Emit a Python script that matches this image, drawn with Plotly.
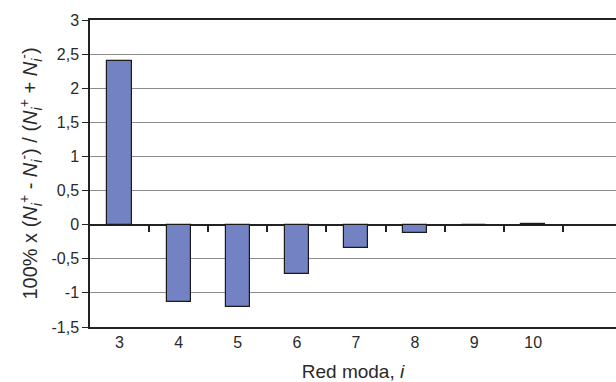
import plotly.graph_objects as go

modes = [3, 4, 5, 6, 7, 8, 9, 10]
values = [2.40, -1.13, -1.21, -0.73, -0.345, -0.115, -0.01, 0.01]
ytick_vals = [-1.5, -1, -0.5, 0, 0.5, 1, 1.5, 2, 2.5, 3]
ytick_text = ["-1,5", "-1", "-0,5", "0", "0,5", "1", "1,5", "2", "2,5", "3"]
boundaries = [3.5, 4.5, 5.5, 6.5, 7.5, 8.5, 9.5, 10.5]

font = dict(family="Arial, Liberation Sans, sans-serif", size=16, color="#2a2a2a")

fig = go.Figure()
fig.add_trace(go.Bar(
    x=modes, y=values, width=0.41,
    marker=dict(color="#7382C2", line=dict(color="#1a1a1a", width=1.2)),
    showlegend=False, hoverinfo="skip",
))
fig.add_trace(go.Scatter(x=[modes[0]], y=[0], xaxis="x2", mode="markers",
                         marker=dict(opacity=0), showlegend=False, hoverinfo="skip"))

fig.update_layout(
    width=616, height=382,
    margin=dict(l=90, r=0, t=20, b=55),
    paper_bgcolor="white", plot_bgcolor="white",
    font=font,
    bargap=0,
    xaxis=dict(
        range=[2.5, 11.4], tickvals=modes, ticktext=[str(m) for m in modes],
        showline=True, linecolor="#222222", linewidth=1.5, mirror=True,
        ticks="", showgrid=False, zeroline=False, automargin=False,
        title=dict(text="Red moda, <i>i</i>", font=dict(size=19), standoff=28),
        tickfont=dict(size=16),
    ),
    xaxis2=dict(
        overlaying="x", anchor="free", position=1.5 / 4.5, side="bottom",
        range=[2.5, 11.4], tickvals=boundaries, showticklabels=False,
        ticks="outside", ticklen=6, tickwidth=1.5, tickcolor="#222222",
        showline=False, showgrid=False, zeroline=False,
    ),
    yaxis=dict(
        range=[-1.5, 3], tickvals=ytick_vals, ticktext=ytick_text,
        showline=True, linecolor="#222222", linewidth=1.5,
        ticks="outside", ticklen=6, tickwidth=1.2, tickcolor="#222222",
        showgrid=True, gridcolor="#8c8c8c", gridwidth=1,
        zeroline=True, zerolinecolor="#222222", zerolinewidth=1.5,
        automargin=False,
        title=dict(
            text="100% x (<i>N<sub>i</sub></i><sup>+</sup> - <i>N<sub>i</sub></i><sup>-</sup>) / (<i>N<sub>i</sub></i><sup>+</sup> + <i>N<sub>i</sub></i><sup>-</sup>)",
            font=dict(size=20), standoff=8,
        ),
        tickfont=dict(size=16),
    ),
)

fig.write_html("out.html")
